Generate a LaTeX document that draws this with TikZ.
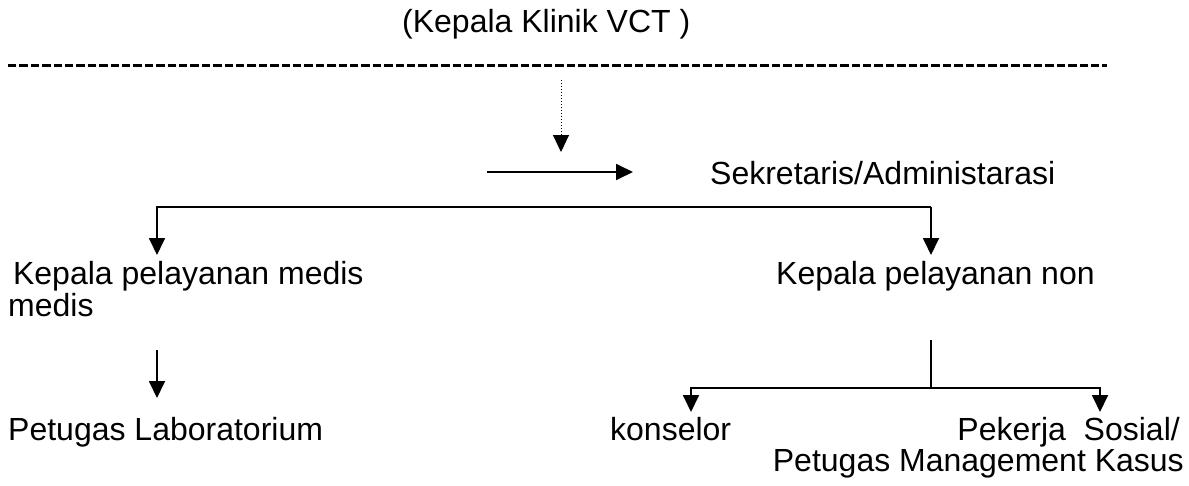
\documentclass[tikz,border=0pt]{standalone}
\usepackage{fontspec}
\setmainfont{Liberation Sans}
\usepackage{tikz}
\usetikzlibrary{arrows.meta}
\usetikzlibrary{calc}
\tikzstyle{arrow} = [line width=1.8pt,-{Triangle[length=17pt,width=16pt]}]
\tikzstyle{label} = [inner sep=0pt,font=\fontsize{32}{38}\selectfont]

\begin{document}
\begin{tikzpicture}[x=1pt,y=-1pt]
\useasboundingbox (0,0) rectangle (1189,485);
% texts
\node[label,anchor=base west] (kepala) at (402,32) {(Kepala Klinik VCT )};
\node[label,anchor=base west] (sekr) at (710,184) {Sekretaris/Administarasi};
\node[label,anchor=base west] (kmed) at (4,284) {\ Kepala pelayanan medis};
\node[label,anchor=base west] (kmed2) at (8,316) {medis};
\node[label,anchor=base west] (knon) at (776,284) {Kepala pelayanan non};
\node[label,anchor=base west] (lab) at (8,440) {Petugas Laboratorium};
\node[label,anchor=base west] (kons) at (610,440) {konselor};
\node[label,anchor=base east] (pekerja) at (1180,440) {Pekerja\ \ Sosial/};
\node[label,anchor=base east] (mgmt) at (1184,471) {Petugas Management Kasus};
% points
\coordinate (dashL) at (8,65);
\coordinate (dashR) at (1107,65);
\coordinate (dotA) at (561,80);
\coordinate (dotB) at (561,152);
\coordinate (solA) at (487,172);
\coordinate (solB) at (633,172);
\coordinate (busR) at (931,207);
\coordinate (medIn) at (157,255);
\coordinate (nonIn) at (931,255);
\coordinate (medOut) at (157,350);
\coordinate (labIn) at (157,398);
\coordinate (nonOut) at (931,340);
\coordinate (bus2) at (931,388);
\coordinate (konsIn) at (691,412);
\coordinate (pekIn) at (1100,412);
% lines
\draw[line width=3pt,dash pattern=on 8.4pt off 3pt] (dashL) -- (dashR);
\draw[line width=1pt,dotted,-{Triangle[length=17pt,width=16pt]}] (dotA) -- (dotB);
\draw[arrow] (solA) -- (solB);
\draw[arrow] (busR) -| (medIn);
\draw[arrow] (busR) -- (nonIn);
\draw[arrow] (medOut) -- (labIn);
\draw[line width=1.8pt] (nonOut) -- (bus2);
\draw[arrow] (bus2) -| (konsIn);
\draw[arrow] (bus2) -| (pekIn);
\end{tikzpicture}
\end{document}
